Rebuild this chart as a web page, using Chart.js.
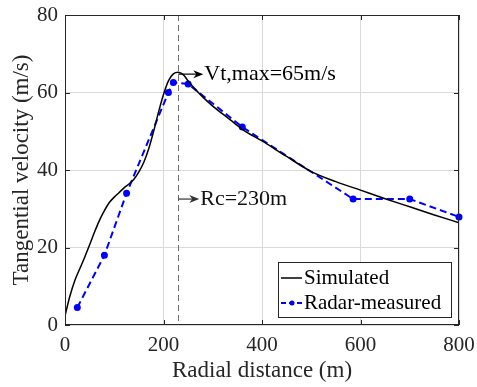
<!DOCTYPE html>
<html><head><meta charset="utf-8">
<script src="https://cdn.jsdelivr.net/npm/chart.js@4"></script>
<style>html,body{margin:0;padding:0;background:#fff}#wrap{width:477px;height:387px}</style>
</head><body><div id="wrap"><canvas id="c" width="477" height="387"></canvas></div>
<script>
// Data
const simX = [0, 10, 20, 30, 40, 50, 60, 70, 80, 90, 100, 110, 120, 130, 140, 150, 160, 170, 180, 190, 200, 210, 220, 230, 240, 250, 260, 280, 300, 335, 360, 400, 450, 500, 550, 600, 650, 700, 750, 800];
const simY = [2.4, 7.5, 11.5, 14.5, 17.5, 20.7, 24, 27, 29.5, 31.6, 33, 34.2, 35.4, 36.4, 37.6, 39.5, 42, 45.5, 50, 55, 59.5, 63, 64.8, 65.2, 64.6, 63, 61.5, 58.8, 56.5, 53, 50.5, 47.5, 43.5, 39.6, 37, 34.8, 32.6, 30.5, 28.4, 26.4];
const radarX = [25, 80, 125, 210, 220, 250, 360, 585, 700, 800];
const radarY = [4.5, 18, 34, 60, 62.6, 62.2, 51.1, 32.5, 32.5, 27.9];
const xTicks = [0, 200, 400, 600, 800];
const yTicks = [0, 20, 40, 60, 80];
const seriesNames = ['Simulated', 'Radar-measured'];
const rcValue = 230;
const vtMax = 65;

const FAMILY = "'Liberation Serif', 'Times New Roman', serif";
const TXT = '#262626';
const tickFont = {family: FAMILY, size: 21};
const titleFont = {family: FAMILY, size: 23};

const framePlugin = {
  id: 'frame',
  beforeDatasetsDraw(chart) {
    const {ctx, chartArea: a, scales: {x}} = chart;
    const px = x.getPixelForValue(rcValue);
    ctx.save();
    ctx.strokeStyle = '#6e6e6e';
    ctx.lineWidth = 1;
    ctx.setLineDash([6, 4]);
    ctx.beginPath();
    ctx.moveTo(Math.round(px) + 0.5, a.top);
    ctx.lineTo(Math.round(px) + 0.5, a.bottom);
    ctx.stroke();
    ctx.restore();
  },
  afterDatasetsDraw(chart) {
    const {ctx, chartArea: a, scales: {x, y}} = chart;
    ctx.save();
    ctx.strokeStyle = TXT;
    ctx.lineWidth = 1;
    ctx.strokeRect(a.left + 0.5, a.top + 0.5, a.right - a.left - 1, a.bottom - a.top - 1);
    const tl = 5;
    ctx.beginPath();
    xTicks.forEach(v => {
      const p = Math.round(x.getPixelForValue(v)) + 0.5;
      ctx.moveTo(p, a.bottom); ctx.lineTo(p, a.bottom - tl);
      ctx.moveTo(p, a.top); ctx.lineTo(p, a.top + tl);
    });
    yTicks.forEach(v => {
      const p = Math.round(y.getPixelForValue(v)) + 0.5;
      ctx.moveTo(a.left, p); ctx.lineTo(a.left + tl, p);
      ctx.moveTo(a.right, p); ctx.lineTo(a.right - tl, p);
    });
    ctx.stroke();

    const arrow = (x0, y0, x1, color) => {
      ctx.strokeStyle = color; ctx.fillStyle = color; ctx.lineWidth = 1.2;
      ctx.beginPath(); ctx.moveTo(x0, y0); ctx.lineTo(x1 - 6, y0); ctx.stroke();
      ctx.beginPath(); ctx.moveTo(x1, y0); ctx.lineTo(x1 - 10, y0 - 4); ctx.lineTo(x1 - 7, y0); ctx.lineTo(x1 - 10, y0 + 4); ctx.closePath(); ctx.fill();
    };
    ctx.font = `22px ${FAMILY}`;
    ctx.textBaseline = 'middle';
    ctx.textAlign = 'left';
    const pkx = x.getPixelForValue(rcValue), pky = y.getPixelForValue(vtMax) + 1;
    arrow(pkx, pky, pkx + 25, '#000');
    ctx.fillStyle = '#000';
    ctx.fillText('Vt,max=65m/s', pkx + 26, pky);
    const rcy = y.getPixelForValue(32.5);
    arrow(pkx, rcy, pkx + 21, '#333');
    ctx.fillStyle = '#111';
    ctx.fillText('Rc=230m', pkx + 22, rcy);

    const lw = 173, lh = 55;
    const lx = a.right - 8 - lw, ly = a.bottom - 8 - lh;
    ctx.fillStyle = '#fff';
    ctx.fillRect(lx, ly, lw, lh);
    ctx.strokeStyle = TXT; ctx.lineWidth = 1; ctx.setLineDash([]);
    ctx.strokeRect(Math.round(lx) + 0.5, Math.round(ly) + 0.5, lw, lh);
    ctx.font = `21px ${FAMILY}`;
    ctx.fillStyle = '#000';
    const r1 = ly + 16, r2 = ly + 41;
    ctx.strokeStyle = '#000'; ctx.lineWidth = 1.5;
    ctx.beginPath(); ctx.moveTo(lx + 3, r1); ctx.lineTo(lx + 24, r1); ctx.stroke();
    ctx.fillText(seriesNames[0], lx + 26, r1);
    ctx.strokeStyle = '#0000ff'; ctx.lineWidth = 2; ctx.setLineDash([5, 3]);
    ctx.beginPath(); ctx.moveTo(lx + 3, r2); ctx.lineTo(lx + 24, r2); ctx.stroke();
    ctx.setLineDash([]);
    ctx.fillStyle = '#0000ff';
    ctx.beginPath(); ctx.arc(lx + 14, r2, 2.5, 0, Math.PI * 2); ctx.fill();
    ctx.fillStyle = '#000';
    ctx.fillText(seriesNames[1], lx + 26, r2);
    ctx.restore();
  }
};

new Chart(document.getElementById('c'), {
  type: 'line',
  data: {
    datasets: [
      {label: seriesNames[0], data: simX.map((v, i) => ({x: v, y: simY[i]})), borderColor: '#000', borderWidth: 1.5,
       pointRadius: 0, cubicInterpolationMode: 'monotone', fill: false},
      {label: seriesNames[1], data: radarX.map((v, i) => ({x: v, y: radarY[i]})), borderColor: '#0000ff', borderWidth: 2,
       borderDash: [7, 4], pointRadius: 2.5, pointBackgroundColor: '#0000ff', pointBorderColor: '#0000ff', tension: 0, clip: false, fill: false}
    ]
  },
  options: {
    responsive: false, animation: false,
    layout: {padding: {left: 0, right: 18, top: 15, bottom: 0}},
    plugins: {legend: {display: false}, tooltip: {enabled: false}},
    scales: {
      x: {
        type: 'linear', min: 0, max: 800,
        afterBuildTicks: s => { s.ticks = xTicks.map(v => ({value: v})); },
        ticks: {font: tickFont, color: TXT, padding: 8, maxRotation: 0, autoSkip: false},
        grid: {color: '#dadada', drawTicks: false, lineWidth: 1},
        border: {display: false},
        title: {display: true, text: 'Radial distance (m)', font: titleFont, color: TXT, padding: {top: 0, bottom: 2}},
        afterFit: s => { s.height = 62; s.paddingLeft = 0; s.paddingRight = 0; }
      },
      y: {
        type: 'linear', min: 0, max: 80,
        afterBuildTicks: s => { s.ticks = yTicks.map(v => ({value: v})); },
        ticks: {font: tickFont, color: TXT, padding: 7, autoSkip: false},
        grid: {color: '#dadada', drawTicks: false, lineWidth: 1},
        border: {display: false},
        title: {display: true, text: 'Tangential velocity (m/s)', font: titleFont, color: TXT, padding: {top: 8, bottom: 0}},
        afterFit: s => { s.width = 65; s.paddingTop = 0; s.paddingBottom = 0; }
      }
    }
  },
  plugins: [framePlugin]
});
</script>
</body></html>
